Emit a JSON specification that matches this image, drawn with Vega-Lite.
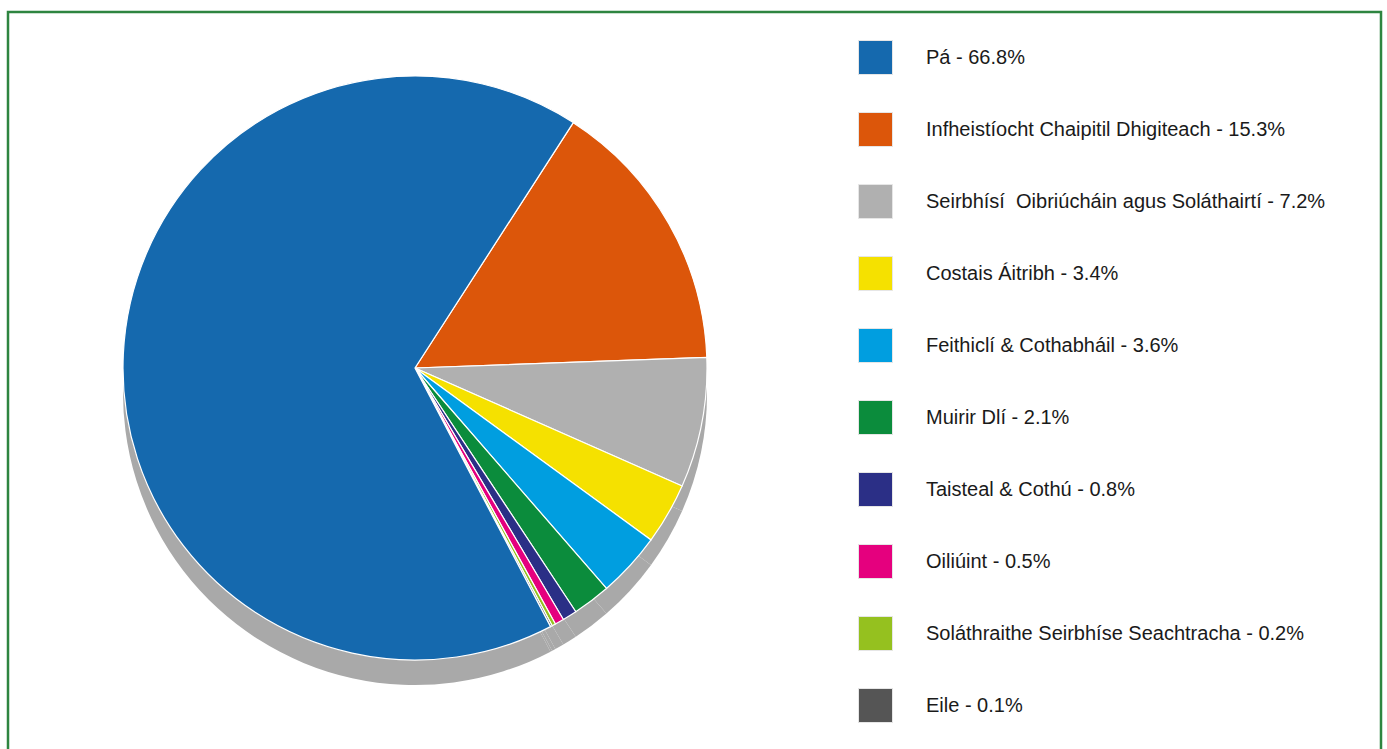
{
  "$schema": "https://vega.github.io/schema/vega-lite/v6.json",
  "width": 1373,
  "height": 745,
  "autosize": {"type": "none"},
  "padding": {"left": 8, "top": 12, "right": 6, "bottom": 0},
  "background": "#ffffff",
  "view": {"stroke": "#2e8540", "strokeWidth": 2.5},
  "config": {
    "view": {"stroke": "#2e8540", "strokeWidth": 2.5},
    "font": "Liberation Sans"
  },
  "data": {
    "values": [
      {"label": "Infheistíocht Chaipitil Dhigiteach - 15.3%", "pct": 15.3, "ord": 1},
      {"label": "Seirbhísí\u00a0 Oibriúcháin agus Soláthairtí - 7.2%", "pct": 7.2, "ord": 2},
      {"label": "Costais Áitribh - 3.4%", "pct": 3.4, "ord": 3},
      {"label": "Feithiclí & Cothabháil - 3.6%", "pct": 3.6, "ord": 4},
      {"label": "Muirir Dlí - 2.1%", "pct": 2.1, "ord": 5},
      {"label": "Taisteal & Cothú - 0.8%", "pct": 0.8, "ord": 6},
      {"label": "Oiliúint - 0.5%", "pct": 0.5, "ord": 7},
      {"label": "Soláthraithe Seirbhíse Seachtracha - 0.2%", "pct": 0.2, "ord": 8},
      {"label": "Eile - 0.1%", "pct": 0.1, "ord": 9},
      {"label": "Pá - 66.8%", "pct": 66.8, "ord": 10}
    ]
  },
  "layer": [
    {
      "mark": {"type": "arc", "x": 407, "y": 356, "yOffset": 25, "outerRadius": 292, "fill": "#a9a9a9", "stroke": null},
      "encoding": {
        "theta": {"field": "pct", "type": "quantitative", "stack": true, "scale": {"range": [0.573, 6.856]}},
        "order": {"field": "ord", "type": "quantitative"}
      }
    },
    {
      "mark": {"type": "arc", "x": 407, "y": 356, "outerRadius": 292, "stroke": "#ffffff", "strokeWidth": 1.2},
      "encoding": {
        "theta": {"field": "pct", "type": "quantitative", "stack": true, "scale": {"range": [0.573, 6.856]}},
        "order": {"field": "ord", "type": "quantitative"},
        "color": {
          "field": "label",
          "type": "nominal",
          "scale": {
            "domain": [
              "Pá - 66.8%",
              "Infheistíocht Chaipitil Dhigiteach - 15.3%",
              "Seirbhísí\u00a0 Oibriúcháin agus Soláthairtí - 7.2%",
              "Costais Áitribh - 3.4%",
              "Feithiclí & Cothabháil - 3.6%",
              "Muirir Dlí - 2.1%",
              "Taisteal & Cothú - 0.8%",
              "Oiliúint - 0.5%",
              "Soláthraithe Seirbhíse Seachtracha - 0.2%",
              "Eile - 0.1%"
            ],
            "range": ["#1569ae", "#dc560a", "#b0b0b0", "#f5e100", "#009ee0", "#0b8c3c", "#2b2f86", "#e5007e", "#95c11f", "#555555"]
          },
          "legend": {
            "orient": "none",
            "legendX": 850,
            "legendY": 28,
            "title": null,
            "padding": 0,
            "symbolType": "square",
            "symbolSize": 1156,
            "symbolStrokeColor": "#e6e6e6",
            "symbolStrokeWidth": 1,
            "symbolOpacity": 1,
            "rowPadding": 33,
            "labelOffset": 33,
            "labelFontSize": 20,
            "labelColor": "#1a1a1a",
            "labelFont": "Liberation Sans",
            "labelLimit": 500
          }
        }
      }
    }
  ]
}
